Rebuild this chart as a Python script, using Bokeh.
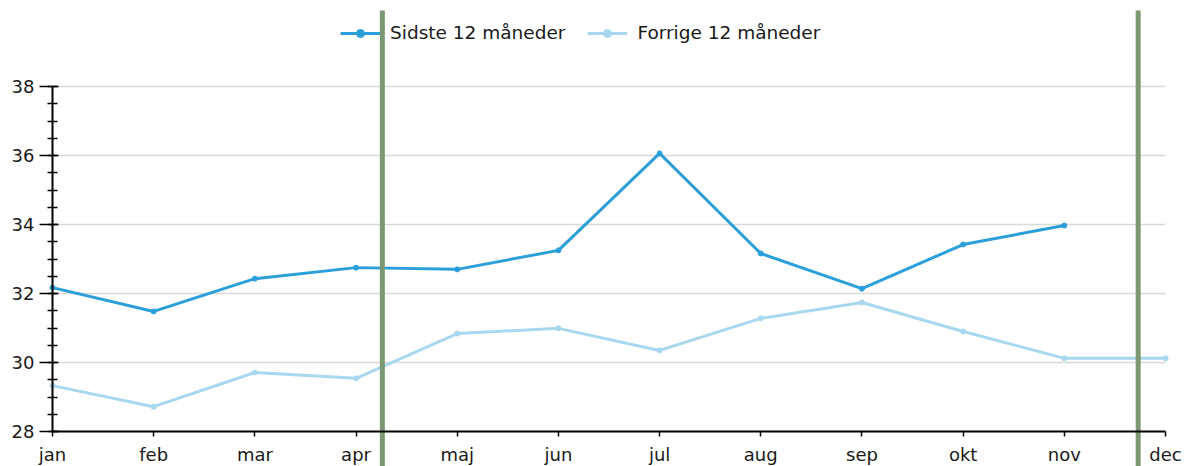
from bokeh.plotting import figure
from bokeh.models import (Range1d, FixedTicker, Legend, LegendItem, ColumnDataSource)
from bokeh.embed import file_html
from bokeh.resources import INLINE

months = ["jan", "feb", "mar", "apr", "maj", "jun", "jul", "aug", "sep", "okt", "nov", "dec"]
sidste = [32.17, 31.48, 32.43, 32.75, 32.70, 33.25, 36.06, 33.16, 32.14, 33.42, 33.97]
forrige = [29.33, 28.72, 29.71, 29.54, 30.84, 30.99, 30.35, 31.28, 31.74, 30.90, 30.12, 30.12]
markers = [3.26, 10.73]
y_ticks = [28, 30, 32, 34, 36, 38]
y_minor = [28 + 0.5 * i for i in range(21)]

FONT = "DejaVu Sans"
DARK = "#2a9fd9"
LIGHT = "#a8d8ef"
GREEN = "#7b9873"
TEXT = "#1a1a1a"

# layout (pixels)
W, H = 1187, 466
X_JAN, X_DEC = 52, 1165
Y38, Y28 = 86, 431
MARK_TOP = 10

n = len(months) - 1
kx = (X_DEC - X_JAN) / n
ky = (Y28 - Y38) / (y_ticks[-1] - y_ticks[0])
x_start = -X_JAN / kx
x_end = n + (W - X_DEC) / kx
y_top = y_ticks[-1] + Y38 / ky
y_bot = y_ticks[0] - (H - Y28) / ky
mark_y1 = y_ticks[-1] + (Y38 - MARK_TOP) / ky

p = figure(width=W, height=H, output_backend="svg", toolbar_location=None,
           x_range=Range1d(x_start, x_end), y_range=Range1d(y_bot, y_top),
           min_border_left=0, min_border_right=0,
           min_border_top=0, min_border_bottom=0)
p.outline_line_color = None
p.xgrid.grid_line_color = None
p.ygrid.grid_line_color = None

# horizontal grid lines between the first and last month
grid_src = ColumnDataSource(dict(y=y_ticks[1:]))
p.segment(x0=0, x1=n, y0="y", y1="y", source=grid_src,
          line_color="#d9d9d9", line_width=1.5)

xs = list(range(len(months)))
src_s = ColumnDataSource(dict(x=xs[:len(sidste)], y=sidste))
src_f = ColumnDataSource(dict(x=xs[:len(forrige)], y=forrige))

lf = p.line("x", "y", source=src_f, line_color=LIGHT, line_width=3)
sf = p.scatter("x", "y", source=src_f, size=5, color=LIGHT)
ls = p.line("x", "y", source=src_s, line_color=DARK, line_width=3)
ss = p.scatter("x", "y", source=src_s, size=5, color=DARK)

# x axis placed at y = 28
xa = p.xaxis[0]
xa.fixed_location = y_ticks[0]
xa.bounds = (0, n)
xa.ticker = FixedTicker(ticks=xs)
xa.major_label_overrides = {i: m for i, m in enumerate(months)}
xa.minor_tick_line_color = None
xa.major_tick_in = 0
xa.major_tick_out = 5
xa.axis_line_width = 2
xa.axis_line_color = "black"
xa.major_tick_line_width = 1.5
xa.major_label_text_font = FONT
xa.major_label_text_font_size = "18px"
xa.major_label_text_color = TEXT
xa.major_label_standoff = 7

# y axis placed at the first month
ya = p.yaxis[0]
ya.fixed_location = 0
ya.ticker = FixedTicker(ticks=y_ticks, minor_ticks=y_minor)
ya.bounds = (y_ticks[0], y_ticks[-1])
ya.major_tick_in = 6
ya.major_tick_out = 13
ya.minor_tick_in = 5
ya.minor_tick_out = 5
ya.axis_line_width = 2
ya.axis_line_color = "black"
ya.major_tick_line_width = 1.5
ya.minor_tick_line_width = 1.5
ya.minor_tick_line_color = "black"
ya.major_label_text_font = FONT
ya.major_label_text_font_size = "18px"
ya.major_label_text_color = TEXT
ya.major_label_standoff = 5

# vertical green markers
mark_src = ColumnDataSource(dict(x=markers))
p.segment(x0="x", x1="x", y0=y_bot, y1=mark_y1, source=mark_src,
          line_color=GREEN, line_width=5, line_cap="butt")

legend = Legend(items=[LegendItem(label="Sidste 12 måneder", renderers=[ls, ss]),
                       LegendItem(label="Forrige 12 måneder", renderers=[lf, sf])],
                orientation="horizontal", location=(340, 423),
                padding=0, margin=0, spacing=22, label_standoff=10,
                glyph_width=40, glyph_height=20,
                label_text_font=FONT, label_text_font_size="18.5px",
                label_text_color=TEXT,
                border_line_color=None, background_fill_alpha=0)
p.add_layout(legend, "center")

open("out.html", "w").write(file_html(p, INLINE))
